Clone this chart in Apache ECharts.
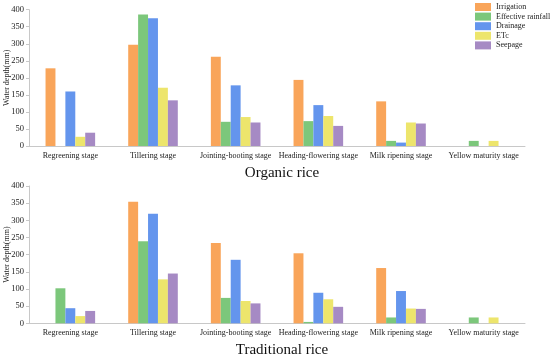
<!DOCTYPE html>
<html><head><meta charset="utf-8">
<script src="https://cdn.jsdelivr.net/npm/echarts@6/dist/echarts.min.js"></script>
<style>html,body{margin:0;padding:0;background:#fff}#c{width:550px;height:354px}</style>
</head><body><div id="c"></div>
<script>
const categories = ['Regreening stage','Tillering stage','Jointing-booting stage','Heading-flowering stage','Milk ripening stage','Yellow maturity stage'];
const seriesNames = ['Irrigation','Effective rainfall','Drainage','ETc','Seepage'];
const colors = ['#F9A55A','#7CC77B','#6495ED','#EDE56C','#A68AC4'];
const yTicks = [0,50,100,150,200,250,300,350,400];
// Organic rice
const orgIrrigation = [228,297,262,194,131,0];
const orgRainfall   = [0,386,71,73,15,15];
const orgDrainage   = [160,375,178,120,10,0];
const orgETc        = [27,171,85,88,69,15];
const orgSeepage    = [39,134,69,59,66,0];
// Traditional rice
const traIrrigation = [0,354,234,204,161,0];
const traRainfall   = [102,239,74,4,17,17];
const traDrainage   = [44,319,185,89,94,0];
const traETc        = [21,128,65,70,43,17];
const traSeepage    = [36,145,58,48,42,0];

const orgData = [orgIrrigation,orgRainfall,orgDrainage,orgETc,orgSeepage];
const traData = [traIrrigation,traRainfall,traDrainage,traETc,traSeepage];
const font = 'Liberation Serif';
const chart = echarts.init(document.getElementById('c'));
function xAxis(i){return {type:'category',gridIndex:i,data:categories,
  axisLine:{lineStyle:{color:'#c8c8c8',width:1}},axisTick:{show:false},
  axisLabel:{color:'#222',fontFamily:font,fontSize:8,margin:6,interval:0}};}
function yAxis(i){return {type:'value',gridIndex:i,min:yTicks[0],max:yTicks[yTicks.length-1],interval:50,
  name:'Water depth(mm)',nameLocation:'middle',nameGap:18,nameMoveOverlap:false,
  nameTextStyle:{color:'#222',fontFamily:font,fontSize:8},
  axisLine:{show:true,lineStyle:{color:'#c8c8c8'}},axisTick:{show:true,length:3,lineStyle:{color:'#c8c8c8'}},
  splitLine:{show:false},
  axisLabel:{color:'#222',fontFamily:font,fontSize:8.5,margin:5}};}
const series=[];
[orgData,traData].forEach((d,g)=>{
  d.forEach((vals,k)=>{
    series.push({type:'bar',name:seriesNames[k],xAxisIndex:g,yAxisIndex:g,data:vals,
      itemStyle:{color:colors[k]},barGap:'0%',barCategoryGap:'40%'});
  });
});
chart.setOption({
  animation:false,
  color:colors,
  title:[
    {text:'Organic rice',left:277,top:161,textAlign:'center',textStyle:{fontFamily:font,fontSize:15,fontWeight:'normal',color:'#111'}},
    {text:'Traditional rice',left:277,top:338,textAlign:'center',textStyle:{fontFamily:font,fontSize:15,fontWeight:'normal',color:'#111'}}
  ],
  legend:{data:seriesNames,orient:'vertical',left:475,top:3,itemWidth:16,itemHeight:8,itemGap:1.6,
    icon:'rect',textStyle:{fontFamily:font,fontSize:8,color:'#222',lineHeight:8},padding:0},
  grid:[
    {left:29,right:25,top:9.7,bottom:208,containLabel:false,outerBoundsMode:'none'},
    {left:29,right:25,top:186,bottom:30.7,containLabel:false,outerBoundsMode:'none'}
  ],
  xAxis:[xAxis(0),xAxis(1)],
  yAxis:[yAxis(0),yAxis(1)],
  series:series
});
</script></body></html>
